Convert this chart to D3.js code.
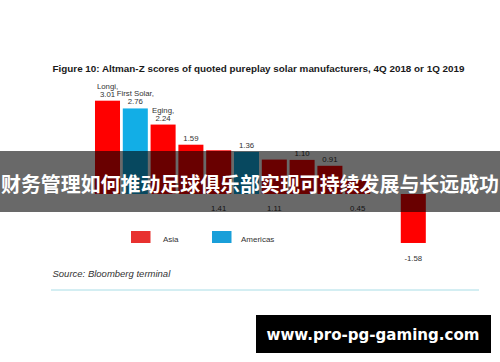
<!DOCTYPE html>
<html lang="en">
<head>
    <meta charset="UTF-8">
    <script src="https://d3js.org/d3.v7.min.js"></script>
    <title>Altman-Z scores</title>
    <style>
        body { margin: 0; background: #fff; }
    </style>
</head>
<body>
    <div id="chart"></div>
</body>
<script>
    // data
    var companies = ["Longi", "First Solar", "Eging", "", "", "", "", "", "", "", "", ""];
    var scores = [3.01, 2.76, 2.24, 1.59, 1.41, 1.36, 1.11, 1.10, 0.91, 0.45, 0, -1.58];
    var regions = ["Asia", "Americas", "Asia", "Asia", "Asia", "Americas", "Asia", "Asia", "Asia", "Asia", "Asia", "Asia"];
    var legendLabels = ["Asia", "Americas"];
    // these labels sit under the zero line in the original
    var labelBelow = [4, 6, 9];

    var width = 500, height = 362;

    var svg = d3.select("#chart")
      .append("svg")
        .attr("width", width)
        .attr("height", height)
        .style("font-family", "'Liberation Sans', Arial, sans-serif");

    var color = d3.scaleOrdinal()
      .domain(["Asia", "Americas"])
      .range(["#ff0000", "#12aee6"]);
    var legendColor = d3.scaleOrdinal()
      .domain(legendLabels)
      .range(["#e8312f", "#199fd9"]);

    // title
    svg.append("text")
      .attr("x", 52.5)
      .attr("y", 72)
      .attr("textLength", 412)
      .attr("lengthAdjust", "spacingAndGlyphs")
      .style("font-size", "9.5px")
      .style("font-weight", "bold")
      .style("fill", "#1a1a1a")
      .text("Figure 10: Altman-Z scores of quoted pureplay solar manufacturers, 4Q 2018 or 1Q 2019");

    // scales
    var idx = d3.range(scores.length);
    var x = d3.scaleBand()
      .domain(idx)
      .range([93.6, 427.2])
      .paddingInner(0.1)
      .paddingOuter(0.05);

    var y = d3.scaleLinear()
      .domain([-2, 3.5])
      .range([256, 85.5]);

    // bars
    svg.append("g")
      .selectAll("rect")
      .data(idx)
      .enter()
      .append("rect")
        .attr("x", function(i) { return x(i); })
        .attr("y", function(i) { return y(Math.max(0, scores[i])); })
        .attr("width", x.bandwidth())
        .attr("height", function(i) { return Math.abs(y(scores[i]) - y(0)); })
        .style("fill", function(i) { return color(regions[i]); });

    // value labels
    var lab = svg.append("g")
      .style("font-size", "7.8px")
      .style("fill", "#333")
      .attr("text-anchor", "middle");

    idx.forEach(function(i) {
      var v = scores[i];
      if (v === 0) return;
      var cx = x(i) + x.bandwidth() / 2;
      var ty;
      if (v < 0) ty = y(v) + 18.5;
      else if (labelBelow.indexOf(i) >= 0) ty = y(0) + 17;
      else ty = y(v) - 4;
      lab.append("text")
        .attr("x", cx)
        .attr("y", ty)
        .text(v.toFixed(2));
      if (companies[i]) {
        lab.append("text")
          .attr("x", cx)
          .attr("y", ty - 8)
          .text(companies[i] + ",");
      }
    });

    // legend
    var legendX = [131, 212];
    var legendTextX = [163, 241];
    var legend = svg.append("g");
    legendLabels.forEach(function(name, k) {
      legend.append("rect")
        .attr("x", legendX[k])
        .attr("y", 231)
        .attr("width", 19.5)
        .attr("height", 12)
        .style("fill", legendColor(name));
      legend.append("text")
        .attr("x", legendTextX[k])
        .attr("y", 242)
        .style("font-size", "8px")
        .style("fill", "#333")
        .text(name);
    });

    // source note
    svg.append("text")
      .attr("x", 52.5)
      .attr("y", 276.5)
      .style("font-size", "9.5px")
      .style("font-style", "italic")
      .style("fill", "#333")
      .text("Source: Bloomberg terminal");

    svg.append("line")
      .attr("x1", 51).attr("x2", 479)
      .attr("y1", 290).attr("y2", 290)
      .style("stroke", "#a8dde6")
      .style("stroke-width", 1);

    // dark caption band on top
    svg.append("rect")
      .attr("x", 0).attr("y", 151)
      .attr("width", width).attr("height", 61)
      .style("fill", "rgba(0,0,0,0.59)");

    svg.append("text")
      .attr("x", 250)
      .attr("y", 191.5)
      .attr("text-anchor", "middle")
      .attr("textLength", 498)
      .attr("lengthAdjust", "spacingAndGlyphs")
      .style("font-family", "'Noto Sans CJK SC', sans-serif")
      .style("font-size", "20px")
      .style("font-weight", "bold")
      .style("fill", "#fff")
      .text("财务管理如何推动足球俱乐部实现可持续发展与长远成功");

    // watermark box
    svg.append("rect")
      .attr("x", 256).attr("y", 315)
      .attr("width", 235).attr("height", 38)
      .style("fill", "#000");

    svg.append("text")
      .attr("x", 373)
      .attr("y", 340)
      .attr("text-anchor", "middle")
      .attr("textLength", 213)
      .attr("lengthAdjust", "spacingAndGlyphs")
      .style("font-family", "'DejaVu Sans', Verdana, sans-serif")
      .style("font-size", "16px")
      .style("font-weight", "bold")
      .style("fill", "#fff")
      .text("www.pro-pg-gaming.com");
</script>
</html>
